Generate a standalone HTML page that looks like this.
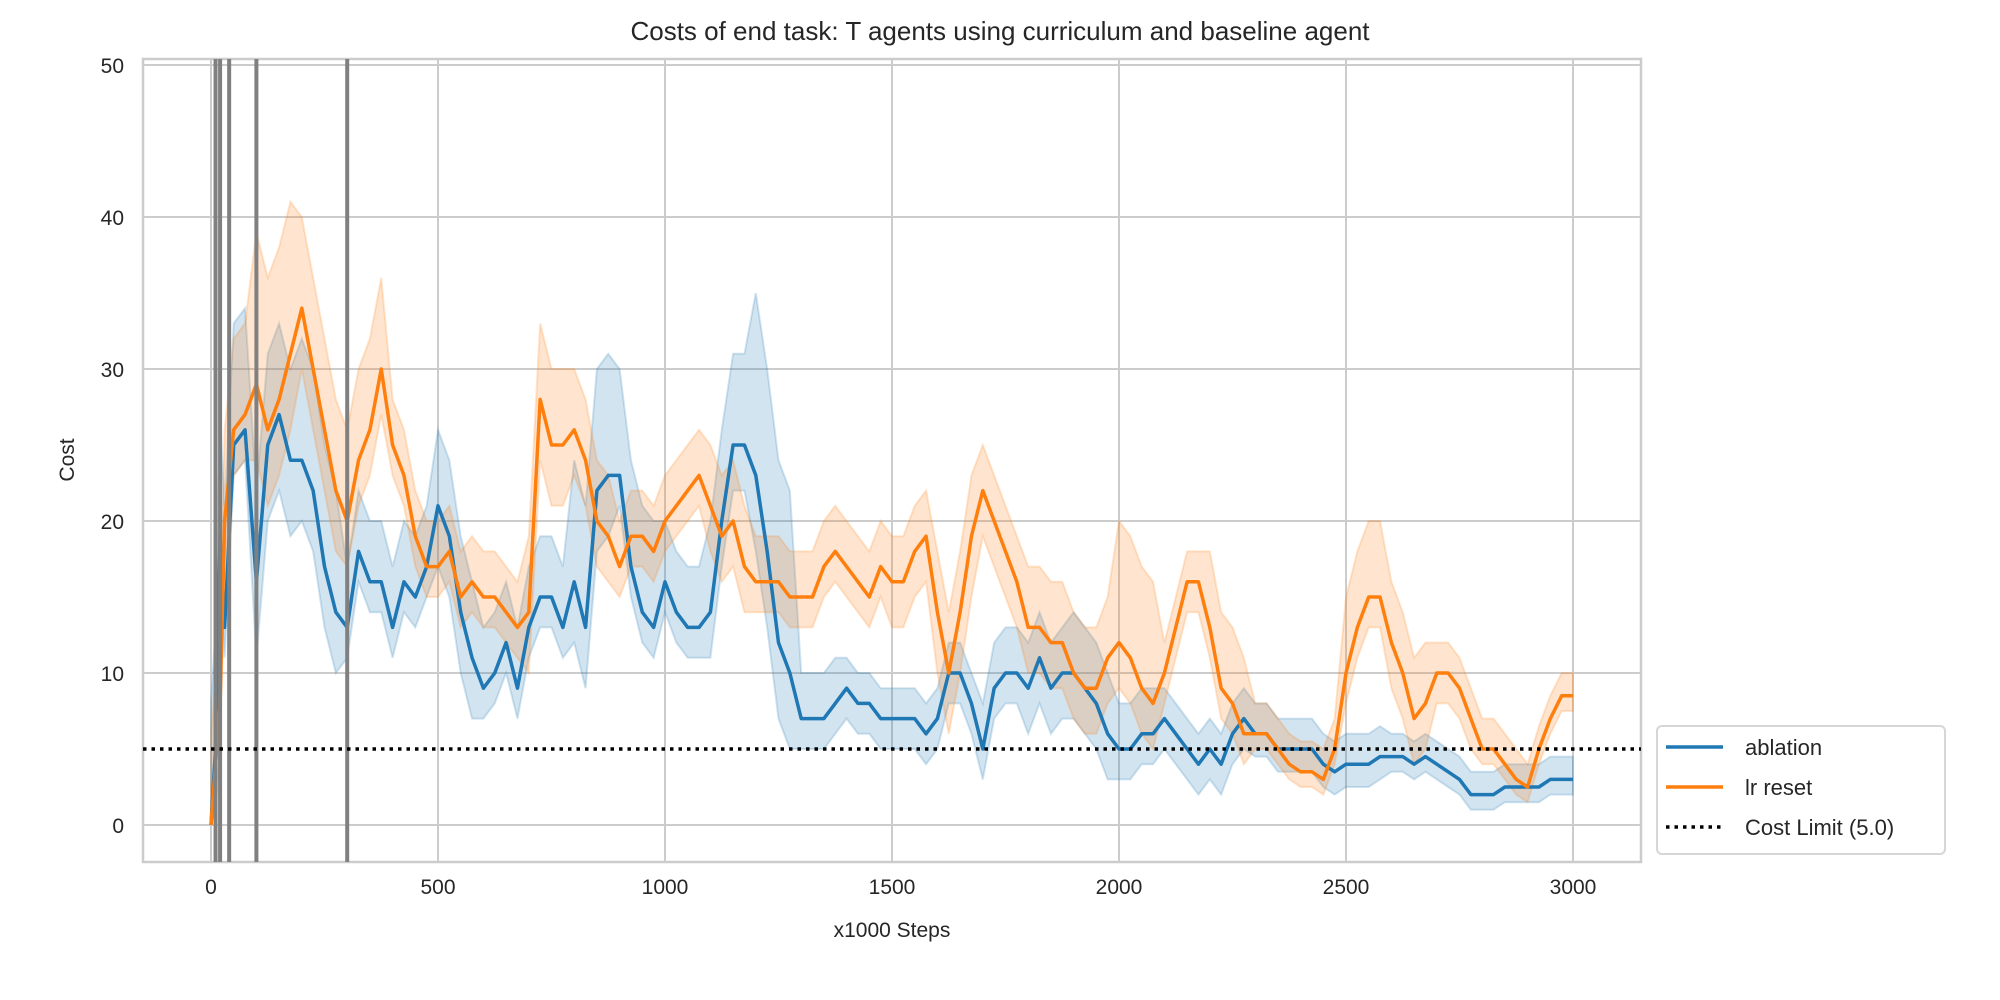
<!DOCTYPE html>
<html><head><meta charset="utf-8"><style>body{margin:0;background:#fff}svg{display:block;font-family:"Liberation Sans",sans-serif}</style></head>
<body>
<svg id="chart" width="2000" height="1000" xmlns="http://www.w3.org/2000/svg"></svg>
<script>
const xTicks=[0,500,1000,1500,2000,2500,3000];
const yTicks=[0,10,20,30,40,50];
const vLines=[10,20,40,100,300];
const costLimit=5.0;
const blueVals=[0,5,19,13,25,26,16,25,27,24,24,22,17,14,13,18,16,16,13,16,15,17,21,19,14,11,9,10,12,9,13,15,15,13,16,13,22,23,23,17,14,13,16,14,13,13,14,20,25,25,23,18,12,10,7,7,7,8,9,8,8,7,7,7,7,6,7,10,10,8,5,9,10,10,9,11,9,10,10,9,8,6,5,5,6,6,7,6,5,4,5,4,6,7,6,6,5,5,5,5,4,3.5,4,4,4,4.5,4.5,4.5,4,4.5,4,3.5,3,2,2,2,2.5,2.5,2.5,2.5,3,3,3];
const orangeVals=[0,4,8,20,26,27,29,26,28,31,34,30,26,22,20,24,26,30,25,23,19,17,17,18,15,16,15,15,14,13,14,28,25,25,26,24,20,19,17,19,19,18,20,21,22,23,21,19,20,17,16,16,16,15,15,15,17,18,17,16,15,17,16,16,18,19,14,10,14,19,22,20,18,16,13,13,12,12,10,9,9,11,12,11,9,8,10,13,16,16,13,9,8,6,6,6,5,4,3.5,3.5,3,5,10,13,15,15,12,10,7,8,10,10,9,7,5,5,4,3,2.5,5,7,8.5,8.5];
const blueUpW=[8,6,8,4,4,5,4,4,8,7,4,6,12,3,2,2,2,3,3,4,3,2,2,2,2,2,1.5,1.5,1.5,1.5,1.5];
const blueDnW=[2,5,4,2,2,4,2,2,4,2,2,3,5,2,2,2,2,2,3,3,2,2,2,1.5,1.5,1.5,1,1,1,1,1];
const orUpW=[6,10,6,6,3,3,3,5,4,3,3,4,3,3,3,3,4,3,4,4,8,2,5,2,2,5,4,2,2,1.5,1.5];
const orDnW=[3,5,4,3,2,2,2,4,3,2,2,3,2,2,2,3,4,3,3,3,3,2,2,1,1,2,3,2,1,1,1];
const steps=[0,10,20,30];for(let s=50;s<=3000;s+=25)steps.push(s);

const L=143,R=1641,T=59,B=862;
const X=v=>211+v*(1573-211)/3000;
const Y=v=>825-v*15.2;
const svg=document.getElementById('chart');
const NS='http://www.w3.org/2000/svg';
function mk(tag,attrs,parent){const e=document.createElementNS(NS,tag);for(const k in attrs)e.setAttribute(k,attrs[k]);(parent||svg).appendChild(e);return e;}

let t=mk('text',{x:1000,y:40,'text-anchor':'middle','font-size':26,fill:'#262626'});t.textContent='Costs of end task: T agents using curriculum and baseline agent';


let bg=mk('rect',{x:L,y:T,width:R-L,height:B-T,fill:'#fff',stroke:'#ccc','stroke-width':2.5});


xTicks.forEach(v=>{
  let g=mk('line',{x1:X(v),x2:X(v),y1:T,y2:B,stroke:'#ccc','stroke-width':2});
  
  
  let l=mk('text',{x:X(v),y:894,'text-anchor':'middle','font-size':21,fill:'#262626'});l.textContent=v;
  
  
});
yTicks.forEach(v=>{
  let g=mk('line',{x1:L,x2:R,y1:Y(v),y2:Y(v),stroke:'#ccc','stroke-width':2});
  
  
  let l=mk('text',{x:124,y:Y(v)+8,'text-anchor':'end','font-size':21,fill:'#262626'});l.textContent=v;
  
  
});
t=mk('text',{x:892,y:937,'text-anchor':'middle','font-size':21,fill:'#262626'});t.textContent='x1000 Steps';


t=mk('text',{x:0,y:0,'text-anchor':'middle','font-size':21,fill:'#262626',transform:'translate(74,460) rotate(-90)'});t.textContent='Cost';



function band(vals,up,dn,color,name){
  const top=steps.map((s,i)=>X(s)+','+Y(vals[i]+up[Math.floor(s/100)]));
  const bot=steps.map((s,i)=>X(s)+','+Y(Math.max(0,vals[i]-dn[Math.floor(s/100)]))).reverse();
  const p=mk('polygon',{points:top.concat(bot).join(' '),fill:color,'fill-opacity':0.2,stroke:color,'stroke-opacity':0.2,'stroke-width':2});
  
  
}
function line(vals,color,name){
  const p=mk('polyline',{points:steps.map((s,i)=>X(s)+','+Y(vals[i])).join(' '),fill:'none',stroke:color,'stroke-width':3.5,'stroke-linejoin':'round'});
  
  
}
band(blueVals,blueUpW,blueDnW,'#1f77b4','ablation-band');
band(orangeVals,orUpW,orDnW,'#ff7f0e','lr-reset-band');
line(blueVals,'#1f77b4','ablation-line');
line(orangeVals,'#ff7f0e','lr-reset-line');
vLines.forEach(v=>{
  let g=mk('line',{x1:X(v),x2:X(v),y1:T,y2:B,stroke:'#808080','stroke-width':4});
  
  
});
let cl=mk('line',{x1:L,x2:R,y1:Y(costLimit),y2:Y(costLimit),stroke:'#000','stroke-width':3.5,'stroke-dasharray':'3.5,5'});



const lg=mk('g',{});


mk('rect',{x:1657,y:726,width:288,height:128,rx:5,fill:'#fff',stroke:'#d6d6d6','stroke-width':2},lg);
[['ablation','#1f77b4',null,747],['lr reset','#ff7f0e',null,787],['Cost Limit (5.0)','#000','3.5,5',827]].forEach(([n,c,d,y])=>{
  const e=mk('g',{},lg);
  
  
  const a={x1:1666,x2:1723,y1:y,y2:y,stroke:c,'stroke-width':3.5};if(d)a['stroke-dasharray']=d;
  mk('line',a,e);
  const tx=mk('text',{x:1745,y:y+8,'font-size':22,fill:'#262626'},e);tx.textContent=n;
});
</script>
</body></html>
